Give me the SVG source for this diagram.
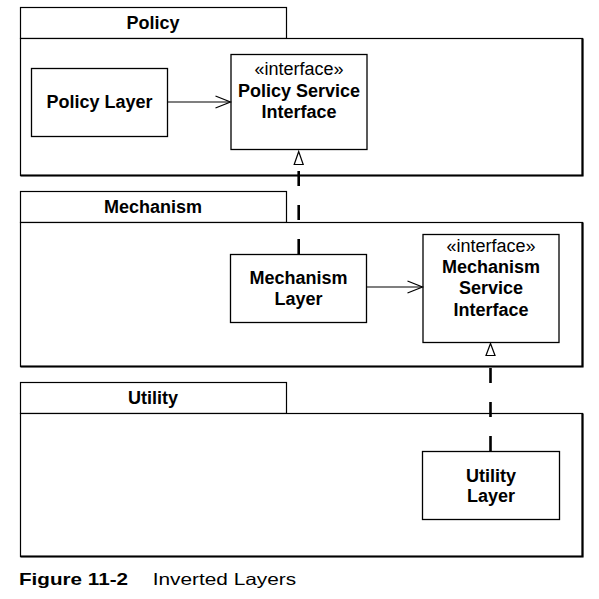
<svg xmlns="http://www.w3.org/2000/svg" width="599" height="599" viewBox="0 0 599 599">
<style>
  .bg { fill: #ffffff; }
  .tab { fill: #ffffff; stroke: #000; stroke-width: 1.2; }
  .body { fill: #ffffff; stroke: #000; stroke-width: 1.2; }
  .shadow { fill: none; stroke: #000; stroke-width: 2.2; }
  .box { fill: #ffffff; stroke: #000; stroke-width: 1.3; }
  .t { font-family: "Liberation Sans", Arial, Helvetica, sans-serif; font-size: 18px; fill: #000; text-anchor: middle; }
  .b { font-weight: bold; }
  .assoc { stroke: #000; stroke-width: 1.2; fill: none; }
  .dash { stroke: #000; stroke-width: 2.6; fill: none; stroke-dasharray: 15 19; }
  .tri { fill: #fff; stroke: #000; stroke-width: 1.2; }
  .cap { font-family: "Liberation Sans", Arial, Helvetica, sans-serif; font-size: 16.5px; fill: #000; }
</style>
<defs>
  <marker id="open" markerWidth="18" markerHeight="14" refX="16" refY="7" orient="auto" markerUnits="userSpaceOnUse">
    <path d="M1,1 L16,7 L1,13" fill="none" stroke="#000" stroke-width="1.2"/>
  </marker>
</defs>
<rect class="bg" x="0" y="0" width="599" height="599"/>

<g id="pkg-policy">
  <rect class="tab" x="20.5" y="7.5" width="266" height="31"/>
  <rect class="body" x="20.5" y="38.5" width="562" height="137"/>
  <polyline class="shadow" points="20.5,175.5 582.5,175.5 582.5,38.5"/>
  <text class="t b" x="153" y="29">Policy</text>
</g>
<g id="pkg-mechanism">
  <rect class="tab" x="20.5" y="191.5" width="266" height="31"/>
  <rect class="body" x="20.5" y="222.5" width="562" height="144"/>
  <polyline class="shadow" points="20.5,366.5 582.5,366.5 582.5,222.5"/>
  <text class="t b" x="153" y="213">Mechanism</text>
</g>
<g id="pkg-utility">
  <rect class="tab" x="20.5" y="382.5" width="266" height="31"/>
  <rect class="body" x="20.5" y="413.5" width="562" height="143"/>
  <polyline class="shadow" points="20.5,556.5 582.5,556.5 582.5,413.5"/>
  <text class="t b" x="153" y="404">Utility</text>
</g>

<g id="policy-layer">
  <rect class="box" x="31.5" y="68.5" width="136" height="68"/>
  <text class="t b" x="99.5" y="108">Policy Layer</text>
</g>
<g id="policy-service-interface">
  <rect class="box" x="231" y="54.5" width="136" height="95"/>
  <text class="t" x="299" y="75">«interface»</text>
  <text class="t b" x="299" y="96.7">Policy Service</text>
  <text class="t b" x="299" y="117.5">Interface</text>
</g>
<g id="mechanism-layer">
  <rect class="box" x="230.5" y="254.5" width="136" height="68"/>
  <text class="t b" x="298.5" y="284">Mechanism</text>
  <text class="t b" x="298.5" y="305">Layer</text>
</g>
<g id="mechanism-service-interface">
  <rect class="box" x="423" y="234.5" width="136" height="108"/>
  <text class="t" x="491" y="251.7">«interface»</text>
  <text class="t b" x="491" y="273">Mechanism</text>
  <text class="t b" x="491" y="294.3">Service</text>
  <text class="t b" x="491" y="315.5">Interface</text>
</g>
<g id="utility-layer">
  <rect class="box" x="422.5" y="451.5" width="137" height="68"/>
  <text class="t b" x="491" y="481.7">Utility</text>
  <text class="t b" x="491" y="501.7">Layer</text>
</g>

<g id="connectors">
  <line class="assoc" x1="167.5" y1="102" x2="230.5" y2="102" marker-end="url(#open)"/>
  <line class="assoc" x1="366.5" y1="287" x2="422.5" y2="287" marker-end="url(#open)"/>
  <line class="dash" x1="298.7" y1="254" x2="298.7" y2="165"/>
  <polygon class="tri" points="298.7,151.5 294.2,164.5 303.2,164.5"/>
  <line class="dash" x1="490.5" y1="451" x2="490.5" y2="356"/>
  <polygon class="tri" points="490.5,343.5 486,355.5 495,355.5"/>
</g>

<g id="caption">
  <text class="cap b" x="19" y="585" textLength="109" lengthAdjust="spacingAndGlyphs">Figure 11-2</text>
  <text class="cap" x="152.7" y="585" textLength="143.5" lengthAdjust="spacingAndGlyphs">Inverted Layers</text>
</g>
</svg>
